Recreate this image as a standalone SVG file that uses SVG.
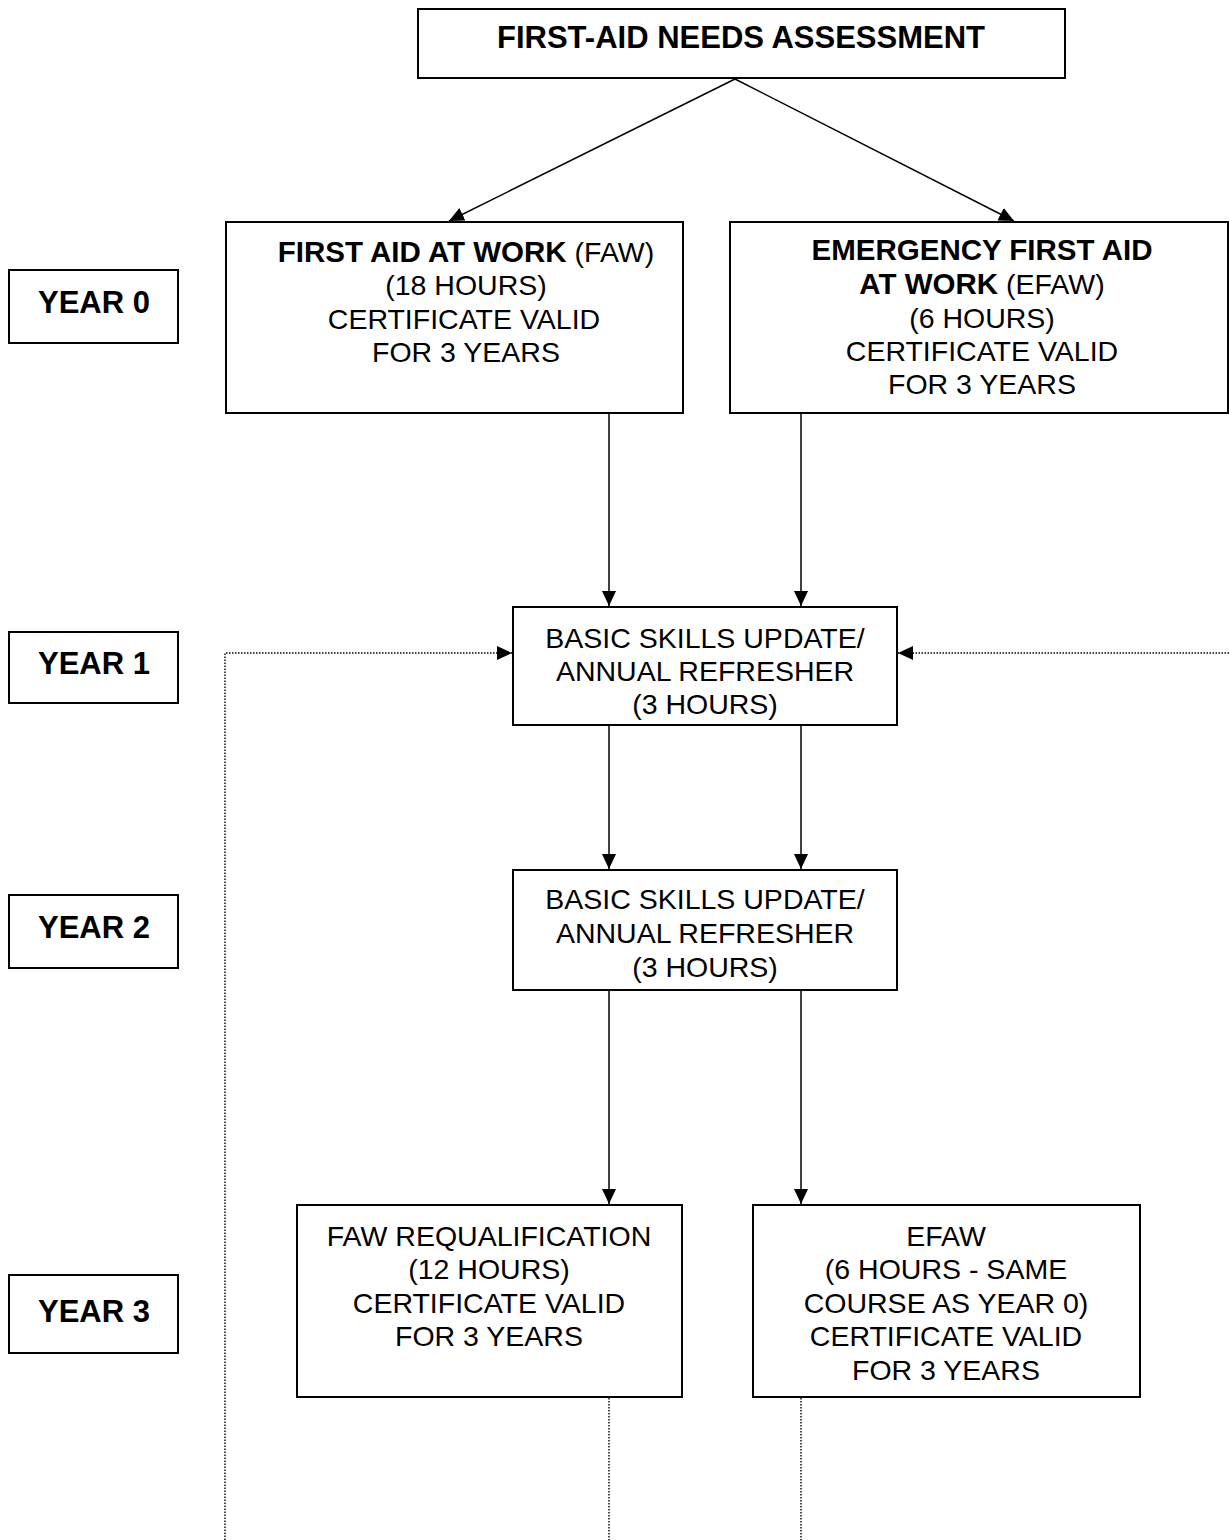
<svg xmlns="http://www.w3.org/2000/svg" width="1229" height="1540" viewBox="0 0 1229 1540">
<style>
.box{fill:#fff;stroke:#000;stroke-width:2}
.t{font-family:"Liberation Sans",Arial,sans-serif;font-size:28.5px;fill:#000;text-anchor:middle}
.b{font-weight:bold;font-size:29.5px}
.big{font-weight:bold;font-size:31px}
.conn{stroke:#000;stroke-width:1.5;fill:none}
.dot{stroke:#000;stroke-width:1.4;fill:none;stroke-dasharray:1.5 1.5}
</style>
<defs>
<marker id="ah" markerUnits="userSpaceOnUse" markerWidth="15" markerHeight="14" refX="15" refY="7" orient="auto">
<path d="M0,0 L15,7 L0,14 z" fill="#000"/>
</marker>
</defs>
<rect width="1229" height="1540" fill="#fff"/>
<g id="connectors">
<line class="conn" x1="735" y1="79" x2="449" y2="221" marker-end="url(#ah)"/>
<line class="conn" x1="735" y1="79" x2="1014" y2="221" marker-end="url(#ah)"/>
<line class="conn" x1="609" y1="413" x2="609" y2="606" marker-end="url(#ah)"/>
<line class="conn" x1="801" y1="413" x2="801" y2="606" marker-end="url(#ah)"/>
<line class="conn" x1="609" y1="725" x2="609" y2="869" marker-end="url(#ah)"/>
<line class="conn" x1="801" y1="725" x2="801" y2="869" marker-end="url(#ah)"/>
<line class="conn" x1="609" y1="990" x2="609" y2="1204" marker-end="url(#ah)"/>
<line class="conn" x1="801" y1="990" x2="801" y2="1204" marker-end="url(#ah)"/>
<line class="dot" x1="609" y1="1398" x2="609" y2="1540"/>
<line class="dot" x1="801" y1="1398" x2="801" y2="1540"/>
<polyline class="dot" points="225,1540 225,653 512,653" marker-end="url(#ah)"/>
<line class="dot" x1="1229" y1="653" x2="898" y2="653" marker-end="url(#ah)"/>
</g>
<g id="assessment">
<rect class="box" x="418" y="9" width="647" height="69"/>
<text class="t big" x="741" y="48">FIRST-AID NEEDS ASSESSMENT</text>
</g>
<g id="faw">
<rect class="box" x="226" y="222" width="457" height="191"/>
<text class="t" x="466" y="262"><tspan class="b">FIRST AID AT WORK</tspan> (FAW)</text>
<text class="t" x="466" y="295">(18 HOURS)</text>
<text class="t" x="464" y="329">CERTIFICATE VALID</text>
<text class="t" x="466" y="362">FOR 3 YEARS</text>
</g>
<g id="efaw">
<rect class="box" x="730" y="222" width="498" height="191"/>
<text class="t b" x="982" y="260">EMERGENCY FIRST AID</text>
<text class="t" x="982" y="294"><tspan class="b">AT WORK</tspan> (EFAW)</text>
<text class="t" x="982" y="328">(6 HOURS)</text>
<text class="t" x="982" y="361">CERTIFICATE VALID</text>
<text class="t" x="982" y="394">FOR 3 YEARS</text>
</g>
<g id="year0">
<rect class="box" x="9" y="270" width="169" height="73"/>
<text class="t big" x="94" y="313">YEAR 0</text>
</g>
<g id="year1">
<rect class="box" x="9" y="632" width="169" height="71"/>
<text class="t big" x="94" y="674">YEAR 1</text>
</g>
<g id="year2">
<rect class="box" x="9" y="895" width="169" height="73"/>
<text class="t big" x="94" y="938">YEAR 2</text>
</g>
<g id="year3">
<rect class="box" x="9" y="1275" width="169" height="78"/>
<text class="t big" x="94" y="1322">YEAR 3</text>
</g>
<g id="bsu1">
<rect class="box" x="513" y="607" width="384" height="118"/>
<text class="t" x="705" y="648">BASIC SKILLS UPDATE/</text>
<text class="t" x="705" y="681">ANNUAL REFRESHER</text>
<text class="t" x="705" y="714">(3 HOURS)</text>
</g>
<g id="bsu2">
<rect class="box" x="513" y="870" width="384" height="120"/>
<text class="t" x="705" y="909">BASIC SKILLS UPDATE/</text>
<text class="t" x="705" y="943">ANNUAL REFRESHER</text>
<text class="t" x="705" y="977">(3 HOURS)</text>
</g>
<g id="faw-requal">
<rect class="box" x="297" y="1205" width="385" height="192"/>
<text class="t" x="489" y="1246">FAW REQUALIFICATION</text>
<text class="t" x="489" y="1279">(12 HOURS)</text>
<text class="t" x="489" y="1313">CERTIFICATE VALID</text>
<text class="t" x="489" y="1346">FOR 3 YEARS</text>
</g>
<g id="efaw-requal">
<rect class="box" x="753" y="1205" width="387" height="192"/>
<text class="t" x="946" y="1246">EFAW</text>
<text class="t" x="946" y="1279">(6 HOURS - SAME</text>
<text class="t" x="946" y="1313">COURSE AS YEAR 0)</text>
<text class="t" x="946" y="1346">CERTIFICATE VALID</text>
<text class="t" x="946" y="1380">FOR 3 YEARS</text>
</g>
</svg>
